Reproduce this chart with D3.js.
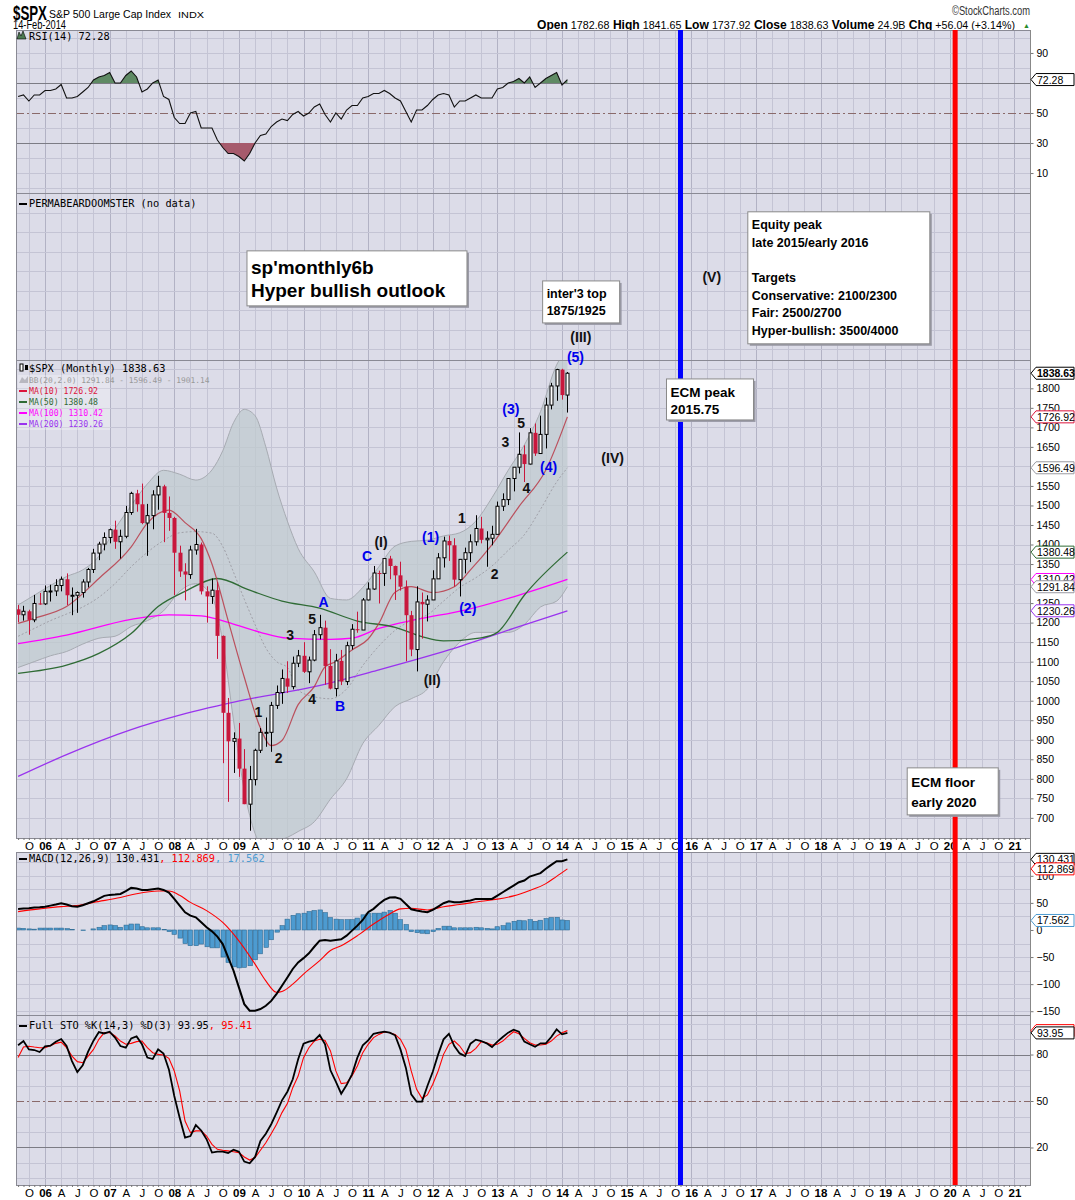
<!DOCTYPE html>
<html lang="en">
<head>
<meta charset="utf-8">
<title>$SPX monthly</title>
<script src="https://d3js.org/d3.v7.min.js"></script>
<style>
  body { margin: 0; background: #fff; }
  svg { display: block; }
  text { font-family: "Liberation Sans", Arial, sans-serif; }
  text.legend { font-family: "DejaVu Sans Mono", "Liberation Mono", monospace; }
  .axis path.domain { display: none; }
  .axis line { stroke: #777; }
  .axis text { fill: #000; }
  .grid line { shape-rendering: crispEdges; }
  .wave { font-weight: bold; font-size: 14px; text-anchor: middle; }
</style>
</head>
<body>
<svg id="chart" width="1075" height="1200"></svg>
<script>
// ---------------------------------------------------------------
// data: monthly bars, first bar = Aug 2005, last bar = Feb 2014
// ---------------------------------------------------------------
var firstBar = "2005-08";

// [open, high, low, close]
var ohlc = [
  // 2005 Aug-Dec
  [1234,1245,1201,1220],[1220,1243,1205,1229],[1229,1233,1169,1207],[1207,1271,1201,1249],[1249,1276,1246,1248],
  // 2006
  [1248,1295,1245,1280],[1280,1297,1254,1281],[1281,1311,1268,1295],[1295,1318,1280,1311],[1311,1326,1245,1270],[1270,1290,1219,1270],
  [1270,1280,1225,1277],[1277,1311,1264,1304],[1304,1340,1290,1336],[1336,1389,1327,1378],[1378,1407,1360,1401],[1401,1431,1385,1418],
  // 2007
  [1418,1441,1403,1438],[1438,1461,1389,1407],[1407,1438,1364,1421],[1421,1499,1416,1482],[1482,1535,1476,1531],[1531,1540,1484,1503],
  [1503,1556,1452,1455],[1455,1504,1371,1474],[1474,1539,1439,1527],[1527,1576,1489,1549],[1549,1553,1406,1481],[1481,1523,1435,1468],
  // 2008
  [1468,1471,1270,1379],[1379,1397,1317,1331],[1331,1352,1257,1323],[1323,1397,1312,1386],[1386,1440,1374,1400],[1400,1405,1272,1280],
  [1280,1293,1200,1267],[1267,1313,1248,1283],[1283,1304,1107,1166],[1166,1167,840,969],[969,1007,741,896],[896,919,815,903],
  // 2009
  [903,943,805,826],[826,876,735,735],[735,833,667,798],[798,877,783,873],[873,930,866,919],[919,957,882,919],
  [919,997,869,988],[988,1039,979,1021],[1021,1080,992,1057],[1057,1101,1020,1036],[1036,1113,1029,1096],[1096,1130,1086,1115],
  // 2010
  [1115,1150,1071,1074],[1074,1113,1045,1104],[1104,1181,1101,1169],[1169,1220,1157,1187],[1187,1205,1041,1089],[1089,1132,1029,1031],
  [1031,1120,1011,1102],[1102,1130,1040,1049],[1049,1151,1040,1141],[1141,1196,1131,1183],[1183,1228,1174,1181],[1181,1263,1181,1258],
  // 2011
  [1258,1303,1257,1286],[1286,1345,1284,1327],[1327,1333,1249,1326],[1326,1364,1294,1364],[1364,1371,1311,1345],[1345,1346,1258,1321],
  [1321,1356,1282,1292],[1292,1308,1101,1219],[1219,1230,1114,1131],[1131,1293,1075,1253],[1253,1277,1159,1247],[1247,1270,1203,1258],
  // 2012
  [1258,1334,1258,1312],[1312,1378,1312,1366],[1366,1420,1341,1409],[1409,1423,1358,1398],[1398,1416,1292,1310],[1310,1363,1267,1362],
  [1362,1392,1326,1379],[1379,1426,1355,1407],[1407,1475,1397,1441],[1441,1471,1403,1412],[1412,1434,1343,1416],[1416,1448,1398,1426],
  // 2013
  [1426,1510,1426,1498],[1498,1531,1486,1515],[1515,1570,1501,1569],[1569,1598,1536,1598],[1598,1687,1582,1631],[1631,1654,1560,1606],
  [1606,1698,1605,1686],[1686,1710,1627,1633],[1633,1730,1633,1682],[1682,1776,1646,1757],[1757,1814,1746,1806],[1806,1850,1768,1848],
  // 2014
  [1848,1850,1771,1782.68],[1782.68,1841.65,1737.92,1838.63]
];
var lastVolume = "24.9B", lastChange = "+56.04 (+3.14%)";

// overlays: [bar index, value]
var ma10 = [[0,1198],[3,1211],[9,1241],[15,1313],[21,1394],[24,1455],[28,1488],[31,1456],[34,1415],[36,1350],[39,1205],[42,1060],
  [45,930],[47,885],[49,898],[52,990],[55,1036],[57,1087],[59,1100],[62,1130],[65,1158],[67,1198],[70,1278],[73,1292],[77,1277],
  [81,1292],[84,1335],[88,1400],[93,1497],[98,1591],[102,1726.92]];
var ma50 = [[0,1070],[9,1091],[15,1121],[21,1172],[26,1241],[31,1280],[37,1313],[43,1283],[49,1255],[56,1237],[63,1204],[70,1188],
  [75,1164],[79,1153],[86,1161],[89,1175],[94,1270],[102,1380.48]];
var ma100 = [[0,1146],[9,1168],[21,1208],[28,1220],[34,1217],[40,1196],[45,1175],[50,1160],[58,1157],[62,1160],[67,1185],[74,1208],
  [83,1232],[92,1266],[102,1310.42]];
var ma200 = [[0,806],[9,862],[21,926],[30,963],[42,1002],[55,1036],[67,1079],[80,1130],[92,1185],[102,1230.26]];

var bbBars  = [0,3,6,9,12,15,18,21,24,27,30,33,36,38,40,42,44,46,48,50,52,55,58,61,64,67,70,73,76,79,82,85,88,91,94,97,100,102];
var bbUpper = [1245,1270,1295,1318,1335,1370,1440,1500,1555,1590,1580,1565,1591,1640,1712,1746,1730,1650,1545,1460,1390,1330,1262,1258,
  1290,1343,1396,1408,1411,1422,1430,1460,1520,1590,1655,1740,1860,1901.14];
var bbMid   = [1165,1185,1205,1222,1240,1265,1300,1343,1380,1410,1430,1433,1429,1395,1329,1260,1195,1135,1100,1085,1027,1010,1005,1030,
  1090,1140,1180,1205,1220,1255,1290,1315,1345,1385,1425,1490,1560,1596.49];
var bbLower = [1085,1100,1115,1126,1145,1160,1165,1190,1205,1230,1280,1300,1267,1150,950,770,660,620,640,650,665,690,748,800,
  890,937,985,1005,1030,1100,1150,1175,1175,1175,1195,1240,1255,1291.84];

// RSI(14), one value per bar
var rsi = [61,62,58,62,62,
  65,65,66,69,60,60,61,64,67,72,74,75,
  77,70,70,75,78,74,64,66,70,72,61,59,
  47,43,43,50,51,40,40,40,32,27,23,23,
  21,18,23,30,35,36,41,44,46,45,49,51,
  48,50,54,56,49,44,50,46,52,55,55,60,
  61,63,63,65,63,60,58,51,44,52,52,55,
  59,62,63,62,54,58,58,60,62,60,60,60,
  66,67,70,71,73,70,74,67,70,73,75,77,
  68.7,72.28];

// MACD(12,26,9)
var macd = [38.9,39.5,40,41.3,42,
  43,45,47,49.4,47,44,43,45.6,49.4,53,58,63,
  64.8,65.4,66.6,71.6,77.7,76.5,74,74,75.3,76.5,74,69,
  57.4,45,32.7,26.5,23.4,14.2,4.9,-2.5,-12.3,-26,-50.6,-75,
  -106,-137,-149,-149,-146,-140,-131,-118,-103,-87.6,-72,-60,
  -52,-43,-31,-19.7,-18.5,-19.7,-18.5,-17.3,-10.5,-1.2,8,18.5,
  32.7,39,48,55.5,59.8,60.5,57.4,48,38.3,35.8,34,32.7,
  37,43.2,49.4,53,51.2,51.2,53,54.3,57.4,57.4,57.4,57.4,
  63.6,69.7,75.9,82,88.2,91.3,98.7,101.8,105,113,120.3,127,
  127,130.431];
var macdSignal = [[0,33.9],[4,39],[8,43.2],[11,45],[14,51],[19,60],[22,67],[26,72],[28,72],[30,64],[32,51],[35,35.8],[38,14],
  [41,-20],[44,-63],[46,-94],[48,-115],[49,-113.5],[51,-100],[53,-81.4],[56,-56.7],[58,-38],[60,-29],[63,-10.5],[66,11],
  [69,29.6],[71,39],[73,40],[76,37],[79,43],[82,47],[86,53],[89,57],[92,63],[95,73],[98,85.6],[100,99],[102,112.869]];
var macdHist = [3.5,3,2,1.5,3.5,
  3.5,3.5,3.5,3.5,2.5,1,0,-1,0,2,5,8,
  9.3,8,5,9,11,11,6,4,4,4,1,-3,
  -8,-15,-25,-29,-29,-26,-31,-33,-33,-50,-60,-68,
  -70,-69,-66,-55,-44,-32,-18,-4,8,20,27,30,
  31,34,36,37,32,23,20,19,19,19,22,28,
  31,31,31,33,36,31,19,10,-3,-5,-6,-7,
  -3,3,7,7,4,4,4,4,5,4,3,2,
  6,8,13,16,18,17,19,16,18,21,23,23.4,
  18.5,17.562];

// Full STO %K(14,3) %D(3)
var stoK = [86,88.7,83.3,82.9,81.6,
  85.3,85.7,88.3,90,85.5,75.8,68.7,73,81.8,88.9,94.5,93.6,
  94.7,90.9,85.5,84.4,90.4,91.7,86.6,78,77.1,83.3,80.7,70.4,
  53.2,39.2,26.4,27.4,34.5,31,25.3,16.7,17.3,17.3,16.5,18.6,
  17.3,10.9,9.8,13.9,24.2,28.9,35,42.5,50.4,56,64,76.9,
  87,88.3,89.1,92.6,86.6,69.8,62.5,54.7,60.3,67.2,78,85.9,
  89.1,93.4,94.1,94.7,94.1,92.4,83.3,71.5,54.3,49.6,49.6,59.7,
  68.9,80.1,89.8,93.4,85.5,80.7,79,87,89.6,88.7,87.2,84.8,
  88.3,91.3,94.1,96,94.7,88.3,86.6,85,87.2,87.2,91.3,96.2,
  93,93.95];
var stoD = [78,84.8,85.3,84.8,84.4,
  84.4,85.7,87.2,88,84.4,79,75.4,74.7,79,83.3,89.8,94.1,
  94.1,92,88.7,86.6,87.2,88.3,88.7,84.4,81.2,80.1,79.7,77.5,
  69.4,56.5,37.1,29.6,30.7,30.7,27.4,22,18.8,18.2,17.8,17.3,
  16.7,13.9,11.9,13.5,18.2,23.1,28.9,35,42.5,48.3,58.6,66.1,
  78,84.4,88.7,89.8,89.1,82.3,69.4,61.2,61.8,66.1,72.6,81.2,
  86.6,90.9,93,94.5,94.1,93,89.8,83.3,69.4,57.5,51.7,53.9,
  60.8,69.4,80.1,86.6,88.7,85.5,80.5,81.2,84,88.3,87.6,86.1,
  86.6,88.7,91.9,94.7,93.4,90.4,87.6,86.1,86.1,86.6,88.7,91.9,
  94.1,95.41];

// Elliott wave labels: [text, bar index, price level, colour key]
var waveLabels = [
  ["1",44.6,972,"k"],["2",48.4,853,"k"],["3",50.5,1168,"k"],["5",54.6,1208,"k"],["4",54.6,1004,"k"],
  ["A",56.7,1252,"b"],["B",59.8,986,"b"],["C",64.8,1371,"b"],
  ["(I)",67.4,1407,"k"],["(II)",76.9,1053,"k"],
  ["(1)",76.6,1418,"b"],["(2)",83.5,1237,"b"],["1",82.4,1468,"k"],["2",88.5,1324,"k"],
  ["3",90.5,1663,"k"],["(3)",91.5,1746,"b"],["5",93.4,1712,"k"],["4",94.4,1544,"k"],["(4)",98.5,1599,"b"],
  ["(5)",103.5,1881,"b"],["(III)",104.5,1932,"k"],["(IV)",110.4,1621,"k"],["(V)",128.8,2086,"k"]
];

// text boxes
var noteText = [
  ["sp'monthly6b", "Hyper bullish outlook"],
  ["inter'3 top", "1875/1925"],
  ["Equity peak", "late 2015/early 2016", "", "Targets", "Conservative: 2100/2300", "Fair: 2500/2700", "Hyper-bullish: 3500/4000"],
  ["ECM peak", "2015.75"],
  ["ECM floor", "early 2020"]
];
// anchor (bar index, price) of each box's top-left corner
var noteAnchor = [[42.5,2152],[97.4,2075],[135.5,2252],[120.4,1824],[165.1,828]];

// cycle dates
var cycleMonths = ["2015-11", "2020-02"];

// ---------------------------------------------------------------
// layout
// ---------------------------------------------------------------
var svg = d3.select("#chart");
var L = 16, R = 1030;
var panels = {rsi: [30, 193], perma: [193, 360], price: [360, 838], macd: [852, 1015], sto: [1015, 1185]};
var bgCol = "#dcdce8", gridCol = "#c4c4d4", yearCol = "#b2b2c4", frameCol = "#8a8a94";
var colUp = "#000", colDn = "#c8173c";
var colMA10 = "#dc143c", colMA50 = "#2f6b35", colMA100 = "#ff00ff", colMA200 = "#9933ee", colBB = "#9a9aa2";
var colHist = "#4d9bd0";

function barIndex(ym) { var p = ym.split("-"), f = firstBar.split("-"); return (+p[0] - +f[0]) * 12 + (+p[1] - +f[1]); }
function monthOf(i) { var t = 2005 * 12 + 7 + i; return {y: Math.floor(t / 12), m: t % 12}; }

var x = d3.scaleLinear().domain([-0.39, 187.9]).range([L, R]);
var yP = d3.scaleLinear().domain([648.4, 1872.5]).range([838, 360]);
var yR = d3.scaleLinear().domain([-3.3, 105.3]).range([193, 30]);
var yM = d3.scaleLinear().domain([-157, 144]).range([1015, 852]);
var yS = d3.scaleLinear().domain([-4.2, 105.5]).range([1185, 1015]);

var defs = svg.append("defs");
function clip(id, y0, y1) {
  defs.append("clipPath").attr("id", id).append("rect")
    .attr("x", L).attr("y", y0).attr("width", R - L).attr("height", y1 - y0);
}

// header (condensed face squeezed with textLength)
var hdr = svg.append("g");
function htext(xx, yy, size, len, str, opts) {
  var t = hdr.append("text").attr("x", xx).attr("y", yy).attr("font-size", size)
    .attr("textLength", len).attr("lengthAdjust", "spacingAndGlyphs").text(str);
  if (opts) Object.keys(opts).forEach(function (k) { t.attr(k, opts[k]); });
  return t;
}
htext(13, 20, 20, 34, "$SPX", {"font-weight": "bold"});
htext(49, 18, 11, 122, "S&P 500 Large Cap Index");
htext(178, 18, 9.5, 26, "INDX");
htext(13, 29, 12, 53, "14-Feb-2014");
htext(952, 15, 12, 78, "\u00a9StockCharts.com", {fill: "#333"});
var last = ohlc[ohlc.length - 1];
var ohlcTxt = hdr.append("text").attr("x", 537).attr("y", 29).attr("font-size", 11.5)
  .attr("textLength", 478).attr("lengthAdjust", "spacingAndGlyphs");
[["Open", last[0].toFixed(2)], ["High", last[1].toFixed(2)], ["Low", last[2].toFixed(2)], ["Close", last[3].toFixed(2)],
 ["Volume", lastVolume], ["Chg", lastChange]].forEach(function (p, k) {
  ohlcTxt.append("tspan").attr("font-weight", "bold").attr("font-size", 13).text((k ? " " : "") + p[0]);
  ohlcTxt.append("tspan").text(" " + p[1]);
});
hdr.append("text").attr("x", R).attr("y", 28).attr("font-size", 7).attr("fill", "#2a8a2a").attr("text-anchor", "end").text("\u25b2");

// panel backgrounds + vertical grid
var quarters = d3.range(2, 188, 3);
Object.keys(panels).forEach(function (k) {
  var b = panels[k];
  svg.append("rect").attr("x", L).attr("y", b[0]).attr("width", R - L).attr("height", b[1] - b[0]).attr("fill", bgCol);
  clip("clip-" + k, b[0], b[1]);
  svg.append("g").attr("class", "grid").selectAll("line").data(quarters).enter().append("line")
    .attr("x1", function (d) { return Math.round(x(d)) + 0.5; })
    .attr("x2", function (d) { return Math.round(x(d)) + 0.5; })
    .attr("y1", b[0]).attr("y2", b[1])
    .attr("stroke", function (d) { return monthOf(d).m === 0 ? yearCol : gridCol; });
});

function hgrid(vals, scale, col, dash) {
  svg.append("g").attr("class", "grid").selectAll("line").data(vals).enter().append("line")
    .attr("x1", L).attr("x2", R)
    .attr("y1", function (d) { return Math.round(scale(d)) + 0.5; })
    .attr("y2", function (d) { return Math.round(scale(d)) + 0.5; })
    .attr("stroke", col).attr("stroke-dasharray", dash || null);
}
hgrid(d3.range(0, 101, 10).filter(function (v) { return [30, 50, 70].indexOf(v) < 0; }), yR, gridCol);
hgrid(d3.range(1900, 2300, 50), yP, gridCol);
hgrid(d3.range(700, 1851, 50), yP, gridCol);
hgrid(d3.range(-150, 141, 25).filter(function (v) { return v !== 0; }), yM, gridCol);
hgrid(d3.range(0, 101, 10).filter(function (v) { return [20, 50, 80].indexOf(v) < 0; }), yS, gridCol);
hgrid([30, 70], yR, "#7c7c84");
hgrid([50], yR, "#8a6a6a", "8,3,2,3");
hgrid([20, 80], yS, "#7c7c84");
hgrid([50], yS, "#8a6a6a", "8,3,2,3");

// ---------------- RSI ----------------
var gR = svg.append("g").attr("clip-path", "url(#clip-rsi)");
clip("clip-rsi-hi", 30, yR(70));
clip("clip-rsi-lo", yR(30), 193);
gR.append("path").datum(rsi).attr("fill", "#5f8a64").attr("clip-path", "url(#clip-rsi-hi)")
  .attr("d", d3.area().x(function (d, i) { return x(i); }).y0(yR(70)).y1(function (d) { return yR(d); }));
gR.append("path").datum(rsi).attr("fill", "#a65a6c").attr("clip-path", "url(#clip-rsi-lo)")
  .attr("d", d3.area().x(function (d, i) { return x(i); }).y0(yR(30)).y1(function (d) { return yR(d); }));
gR.append("path").datum(rsi).attr("fill", "none").attr("stroke", "#111").attr("stroke-width", 1.1)
  .attr("d", d3.line().x(function (d, i) { return x(i); }).y(function (d) { return yR(d); }));

// ---------------- price ----------------
var gP = svg.append("g").attr("clip-path", "url(#clip-price)");
var bbRows = bbBars.map(function (b, k) { return {i: b, u: bbUpper[k], m: bbMid[k], l: bbLower[k]}; });
gP.append("path").datum(bbRows).attr("fill", "#bfcbcf").attr("fill-opacity", 0.72)
  .attr("d", d3.area().curve(d3.curveMonotoneX).x(function (d) { return x(d.i); })
    .y0(function (d) { return yP(d.l); }).y1(function (d) { return yP(d.u); }));
["u", "l"].forEach(function (key) {
  gP.append("path").datum(bbRows).attr("fill", "none").attr("stroke", "#a7abb2").attr("stroke-width", 1)
    .attr("d", d3.line().curve(d3.curveMonotoneX).x(function (d) { return x(d.i); }).y(function (d) { return yP(d[key]); }));
});
gP.append("path").datum(bbRows).attr("fill", "none").attr("stroke", "#a0a0a8").attr("stroke-dasharray", "2,2")
  .attr("d", d3.line().curve(d3.curveMonotoneX).x(function (d) { return x(d.i); }).y(function (d) { return yP(d.m); }));

var maLine = d3.line().curve(d3.curveMonotoneX).x(function (d) { return x(d[0]); }).y(function (d) { return yP(d[1]); });
[[ma200, colMA200, 1.3, 1], [ma100, colMA100, 1.3, 1], [ma50, colMA50, 1.3, 1], [ma10, "#b83a48", 1.2, 0.85]].forEach(function (s) {
  gP.append("path").datum(s[0]).attr("fill", "none").attr("stroke", s[1]).attr("stroke-width", s[2])
    .attr("stroke-opacity", s[3]).attr("d", maLine);
});

var cg = gP.selectAll("g.candle").data(ohlc).enter().append("g");
cg.append("line")
  .attr("x1", function (d, i) { return Math.round(x(i)) + 0.5; })
  .attr("x2", function (d, i) { return Math.round(x(i)) + 0.5; })
  .attr("y1", function (d) { return yP(d[1]); })
  .attr("y2", function (d) { return yP(d[2]); })
  .attr("stroke", function (d) { return d[3] >= d[0] ? colUp : colDn; });
cg.append("rect")
  .attr("x", function (d, i) { return Math.round(x(i)) - 1 + (d[3] >= d[0] ? 0 : -0.5); })
  .attr("width", function (d) { return d[3] >= d[0] ? 3 : 4; })
  .attr("y", function (d) { return yP(Math.max(d[0], d[3])); })
  .attr("height", function (d) { return Math.max(1, Math.abs(yP(d[0]) - yP(d[3]))); })
  .attr("fill", function (d) { return d[3] >= d[0] ? "#fff" : colDn; })
  .attr("stroke", function (d) { return d[3] >= d[0] ? colUp : "none"; });

// ---------------- MACD ----------------
var gM = svg.append("g").attr("clip-path", "url(#clip-macd)");
gM.selectAll("rect").data(macdHist).enter().append("rect")
  .attr("x", function (d, i) { return Math.round(x(i)) - 2; })
  .attr("width", 4.5)
  .attr("y", function (d) { return yM(Math.max(0, d)); })
  .attr("height", function (d) { return Math.abs(yM(d) - yM(0)); })
  .attr("fill", colHist).attr("stroke", "#2f6a92").attr("stroke-width", 0.6);
gM.append("path").datum(macdSignal).attr("fill", "none").attr("stroke", "#ff0000").attr("stroke-width", 1.1)
  .attr("d", d3.line().curve(d3.curveMonotoneX).x(function (d) { return x(d[0]); }).y(function (d) { return yM(d[1]); }));
gM.append("path").datum(macd).attr("fill", "none").attr("stroke", "#000").attr("stroke-width", 2)
  .attr("d", d3.line().x(function (d, i) { return x(i); }).y(function (d) { return yM(d); }));

// ---------------- STO ----------------
var gS = svg.append("g").attr("clip-path", "url(#clip-sto)");
gS.append("path").datum(stoD).attr("fill", "none").attr("stroke", "#ff0000").attr("stroke-width", 1.1)
  .attr("d", d3.line().x(function (d, i) { return x(i); }).y(function (d) { return yS(d); }));
gS.append("path").datum(stoK).attr("fill", "none").attr("stroke", "#000").attr("stroke-width", 1.8)
  .attr("d", d3.line().x(function (d, i) { return x(i); }).y(function (d) { return yS(d); }));

// frames
Object.keys(panels).forEach(function (k) {
  var b = panels[k];
  svg.append("rect").attr("x", L + 0.5).attr("y", b[0] + 0.5).attr("width", R - L).attr("height", b[1] - b[0])
    .attr("fill", "none").attr("stroke", frameCol).attr("shape-rendering", "crispEdges");
});

// x axes (label rows + month ticks)
function xLabel(i) {
  var m = monthOf(i);
  if (m.m === 0) return d3.format("02d")(m.y % 100);
  return ["", "", "", "A", "", "", "J", "", "", "O", "", ""][m.m];
}
[838, 1185].forEach(function (yy) {
  var ax = svg.append("g").attr("class", "axis").attr("transform", "translate(0," + yy + ")")
    .call(d3.axisBottom(x).tickValues(quarters.filter(function (q) { return x(q) < R - 4; })).tickSize(0).tickPadding(4).tickFormat(xLabel));
  ax.selectAll("text").attr("font-size", 11.5)
    .attr("font-weight", function (d) { return monthOf(d).m === 0 ? "bold" : "normal"; });
  svg.append("g").attr("class", "axis").attr("transform", "translate(0," + yy + ")")
    .call(d3.axisBottom(x).tickValues(d3.range(0, 188)).tickSize(2).tickFormat(""));
});

// cycle lines
cycleMonths.forEach(function (ym, k) {
  var xi = x(barIndex(ym));
  svg.append("line").attr("x1", xi).attr("x2", xi).attr("y1", 30).attr("y2", 1185)
    .attr("stroke", k ? "#ff0000" : "#0000ff").attr("stroke-width", 5);
});

// right axes (labels hidden under value tags in the original are left out)
function rightAxis(scale, vals) {
  var ax = svg.append("g").attr("class", "axis").attr("transform", "translate(" + (R + 0.5) + ",0)")
    .call(d3.axisRight(scale).tickValues(vals).tickSize(3).tickPadding(3).tickFormat(d3.format("d")));
  ax.selectAll("text").attr("font-size", 10.5);
}
rightAxis(yR, [10, 30, 50, 90]);
rightAxis(yP, d3.range(700, 1851, 50).filter(function (v) { return [1300, 1600, 1850].indexOf(v) < 0; }));
rightAxis(yM, [-150, -100, -50, 0, 50, 100]);
rightAxis(yS, [20, 50, 80]);
svg.append("line").attr("x1", R + 0.5).attr("x2", R + 0.5).attr("y1", 30).attr("y2", 1185).attr("stroke", "#888");

function tag(yv, label, col, bold) {
  var g = svg.append("g").attr("transform", "translate(" + (R + 1) + "," + yv + ")");
  g.append("path").attr("d", "M0,0 L5,-6 L43,-6 L43,6 L5,6 Z").attr("fill", "#fff").attr("stroke", col);
  g.append("text").attr("x", 6).attr("y", 4).attr("font-size", 10.5).attr("font-weight", bold ? "bold" : "normal").text(label);
}
tag(yR(rsi[rsi.length - 1]), "72.28", "#000");
tag(yP(last[3]), last[3].toFixed(2), "#000", true);
tag(yP(ma10[ma10.length - 1][1]), "1726.92", colMA10);
tag(yP(bbMid[bbMid.length - 1]), "1596.49", colBB);
tag(yP(ma50[ma50.length - 1][1]), "1380.48", colMA50);
tag(yP(ma100[ma100.length - 1][1]), "1310.42", colMA100);
tag(yP(bbLower[bbLower.length - 1]), "1291.84", colBB);
tag(yP(ma200[ma200.length - 1][1]), "1230.26", colMA200);
tag(yM(macd[macd.length - 1]), "130.431", "#000");
tag(yM(macdSignal[macdSignal.length - 1][1]), "112.869", "#ff0000");
tag(yM(macdHist[macdHist.length - 1]), "17.562", colHist);
tag(yS(stoD[stoD.length - 1]), "95.41", "#ff0000");
tag(yS(stoK[stoK.length - 1]), "93.95", "#000");

// legends
function legend(y0, parts, size, mark) {
  var t = svg.append("text").attr("class", "legend").attr("x", 29).attr("y", y0).attr("font-size", size || 10.3);
  parts.forEach(function (p) { t.append("tspan").attr("fill", p[1]).text(p[0]); });
  if (mark) svg.append("rect").attr("x", 19).attr("y", y0 - 4).attr("width", 8).attr("height", 2).attr("fill", mark);
}
legend(40, [["RSI(14) 72.28", "#000"]]);
svg.append("path").attr("d", "M17,39 L19,32 L21,36 L23,31 L26,39 Z").attr("fill", "#4d7a50").attr("stroke", "#000").attr("stroke-width", 0.6);
legend(207, [["PERMABEARDOOMSTER (no data)", "#000"]], 10.3, "#000");
svg.append("rect").attr("x", 18).attr("y", 375).attr("width", 92).attr("height", 55).attr("fill", "#fff").attr("fill-opacity", 0.25);
legend(372, [["$SPX (Monthly) 1838.63", "#000"]]);
svg.append("rect").attr("x", 20).attr("y", 364).attr("width", 3).attr("height", 7).attr("fill", "#fff").attr("stroke", "#000");
svg.append("rect").attr("x", 25).attr("y", 365).attr("width", 3).attr("height", 5).attr("fill", "#000");
legend(383, [["BB(20,2.0) 1291.84 - 1596.49 - 1901.14", "#999"]], 7.9);
svg.append("path").attr("d", "M19,383 L22,377 L25,380 L28,376 L28,383 Z").attr("fill", "#b8b8c0");
legend(394, [["MA(10) 1726.92", colMA10]], 8.2, colMA10);
legend(405, [["MA(50) 1380.48", colMA50]], 8.2, colMA50);
legend(416, [["MA(100) 1310.42", colMA100]], 8.2, colMA100);
legend(427, [["MA(200) 1230.26", colMA200]], 8.2, colMA200);
legend(862, [["MACD(12,26,9) 130.431", "#000"], [", 112.869", "#ff0000"], [", 17.562", colHist]], 10.3, "#000");
legend(1029, [["Full STO %K(14,3) %D(3) 93.95", "#000"], [", 95.41", "#ff0000"]], 10.3, "#000");

// wave labels
svg.append("g").selectAll("text").data(waveLabels).enter().append("text")
  .attr("class", "wave")
  .attr("x", function (d) { return x(d[1]); })
  .attr("y", function (d) { return yP(d[2]) + 5; })
  .attr("fill", function (d) { return d[3] === "b" ? "#0000ee" : "#111"; })
  .text(function (d) { return d[0]; });

// text boxes: [width, height, font size, line step, first baseline]
var noteStyle = [[220, 55, 19, 23, 23], [77, 42, 12.5, 17, 17.5], [182, 132, 12.5, 17.7, 17], [87, 41, 13.5, 17.6, 17.7], [91, 47, 13.5, 20, 19]];
noteText.forEach(function (lines, k) {
  var bx = x(noteAnchor[k][0]), by = yP(noteAnchor[k][1]), st = noteStyle[k];
  svg.append("rect").attr("x", bx + 2).attr("y", by + 2).attr("width", st[0]).attr("height", st[1]).attr("fill", "#9a9aa6");
  svg.append("rect").attr("x", bx).attr("y", by).attr("width", st[0]).attr("height", st[1])
    .attr("fill", "#fff").attr("stroke", "#8a8a8a");
  var t = svg.append("text").attr("font-weight", "bold").attr("font-size", st[2]);
  lines.forEach(function (s, j) {
    t.append("tspan").attr("x", bx + 4).attr("y", by + st[4] + j * st[3]).text(s);
  });
});
</script>
</body>
</html>
